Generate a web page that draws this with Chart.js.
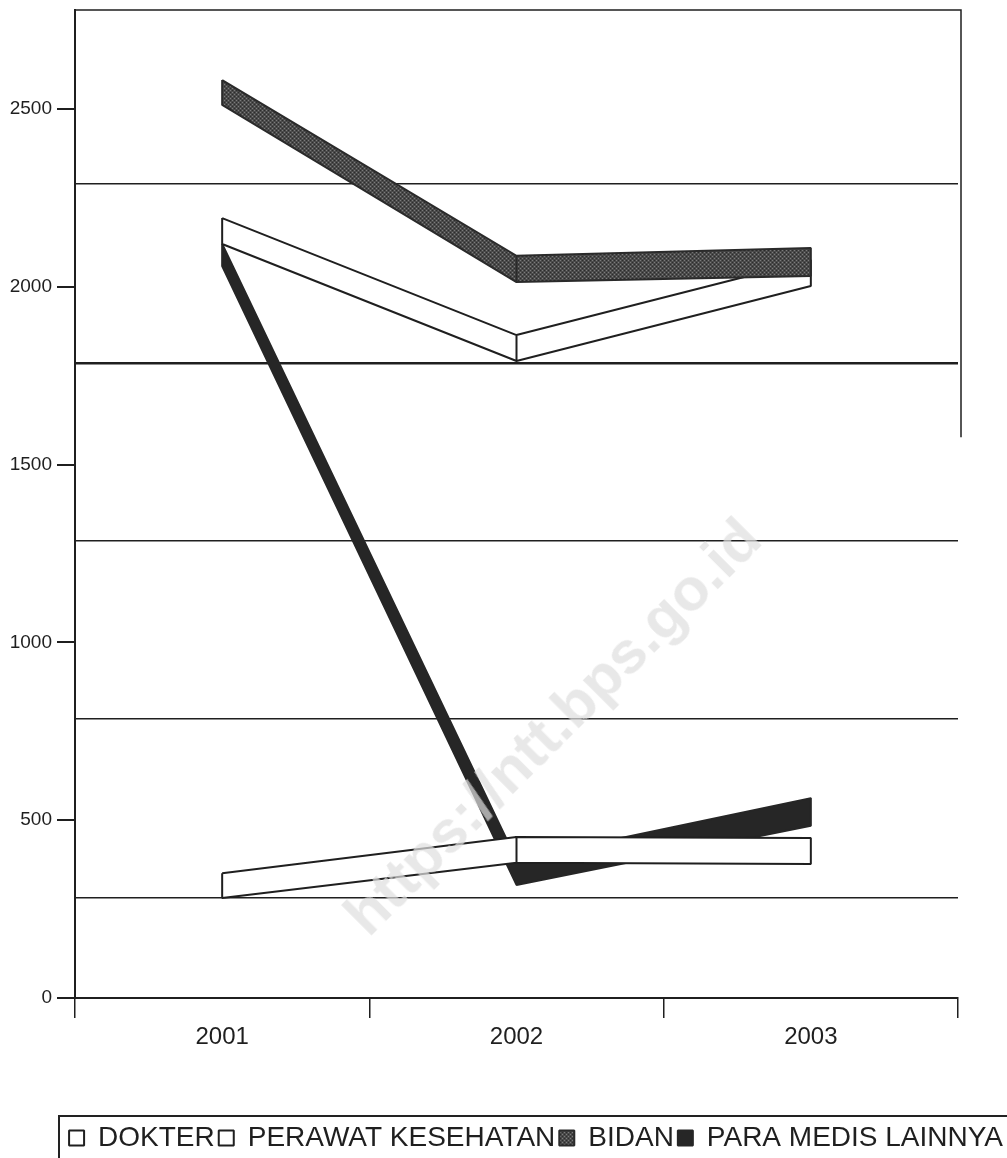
<!DOCTYPE html>
<html><head><meta charset="utf-8">
<style>
html,body{margin:0;padding:0;background:#fff;width:1007px;height:1158px;overflow:hidden}
#wrap{position:relative;width:1007px;height:1158px}
#legendFrame{position:absolute;left:58px;top:1115px;right:0;height:50px;border-top:2px solid #222;border-left:2px solid #222;pointer-events:none}
#wm{position:absolute;left:552px;top:726px;transform:translate(-50%,-50%) rotate(-45deg);font:bold 60px "Liberation Sans",sans-serif;color:rgba(222,222,222,.7);white-space:nowrap;pointer-events:none}
</style></head>
<body><div id="wrap"><canvas id="c" width="1007" height="1158"></canvas><div id="legendFrame"></div><div id="wm">https://ntt.bps.go.id</div></div>
<script src="https://cdn.jsdelivr.net/npm/chart.js@4"></script>
<script>
const categories = ['2001','2002','2003'];
const yTicks = [0,500,1000,1500,2000,2500];
const wallLines = [282,785,1285,1785,2288];
const dokterTop = [351,453,450];
const dokterBottom = [281,380,377];
const perawatTop = [2193,1864,2075];
const perawatBottom = [2120,1791,2002];
const bidanTop = [2581,2087,2109];
const bidanBottom = [2511,2013,2030];
const paraTop = [2120,388,562];
const paraBottom = [2058,318,484];

function ribbon(top,bot){
  const c=categories, p=(i,y)=>({x:c[i],y});
  return [p(0,top[0]),p(1,top[1]),p(1,bot[1]),p(1,top[1]),p(2,top[2]),p(2,bot[2]),p(1,bot[1]),p(0,bot[0]),p(0,top[0])];
}
function hatch(){
  const k=document.createElement('canvas');k.width=k.height=4;
  const g=k.getContext('2d');g.fillStyle='#4a4a4a';g.fillRect(0,0,4,4);
  g.fillStyle='#7c7c7c';g.fillRect(0,0,1,1);g.fillRect(2,2,1,1);
  g.fillStyle='#2c2c2c';g.fillRect(2,0,1,1);g.fillRect(0,2,1,1);
  return g.createPattern(k,'repeat');
}
const ink='#1f1f1f';
const frame={id:'frame',afterDraw(ch){
  const {ctx,chartArea:a,scales:{y}}=ch;ctx.save();ctx.strokeStyle=ink;ctx.lineWidth=1.5;
  ctx.beginPath();ctx.moveTo(a.left,a.top);ctx.lineTo(a.right+3,a.top);ctx.lineTo(a.right+3,y.getPixelForValue(1577));ctx.stroke();ctx.restore();
}};
new Chart(document.getElementById('c'),{
  type:'line',
  plugins:[frame],
  data:{labels:categories,datasets:[
    {label:'DOKTER',data:ribbon(dokterTop,dokterBottom),backgroundColor:'#fff',borderColor:ink,order:1},
    {label:'PERAWAT KESEHATAN',data:ribbon(perawatTop,perawatBottom),backgroundColor:'#fff',borderColor:ink,order:3},
    {label:'BIDAN',data:ribbon(bidanTop,bidanBottom),backgroundColor:hatch(),borderColor:'#2a2a2a',order:2},
    {label:'PARA MEDIS LAINNYA',data:ribbon(paraTop,paraBottom),backgroundColor:'#262626',borderColor:'#262626',order:4}
  ].map(d=>({...d,fill:'shape',borderWidth:2,pointRadius:0,tension:0,borderJoinStyle:'bevel',yAxisID:'y'}))},
  options:{
    responsive:false,animation:false,devicePixelRatio:1,
    layout:{padding:{top:10,right:0,left:0,bottom:-4}},
    events:[],
    plugins:{tooltip:{enabled:false},
      legend:{position:'bottom',align:'end',
        labels:{font:{family:'"Liberation Sans"',size:28,lineHeight:1},color:ink,boxWidth:15,boxHeight:15,padding:4,
          sort:(a,b)=>a.datasetIndex-b.datasetIndex}}},
    scales:{
      x:{offset:true,
        grid:{offset:true,drawOnChartArea:false,tickLength:20,color:ink,lineWidth:1.5},
        border:{color:ink,width:2},
        ticks:{color:ink,padding:5,font:{family:'"Liberation Sans"',size:24},maxRotation:0},
        afterFit:s=>{s.height=122;s.paddingLeft=0;s.paddingRight=0}},
      y:{min:0,max:2778,position:'left',
        afterBuildTicks:s=>{s.ticks=yTicks.map(v=>({value:v}))},
        afterFit:s=>{s.width=75;s.paddingTop=0;s.paddingBottom=0},
        grid:{drawOnChartArea:false,tickLength:18,color:ink,lineWidth:2},
        border:{color:ink,width:2},
        ticks:{color:ink,padding:5,font:{family:'"Liberation Sans"',size:19},callback:v=>String(v)}},
      y2:{min:0,max:2778,position:'right',
        afterBuildTicks:s=>{s.ticks=wallLines.map(v=>({value:v}))},
        afterFit:s=>{s.width=49;s.paddingTop=0;s.paddingBottom=0},
        border:{display:false},
        grid:{color:ink,lineWidth:c=>c.tick&&c.tick.value===1785?2.5:1.6,drawTicks:false},
        ticks:{display:false}}
    }
  }
});
</script></body></html>
